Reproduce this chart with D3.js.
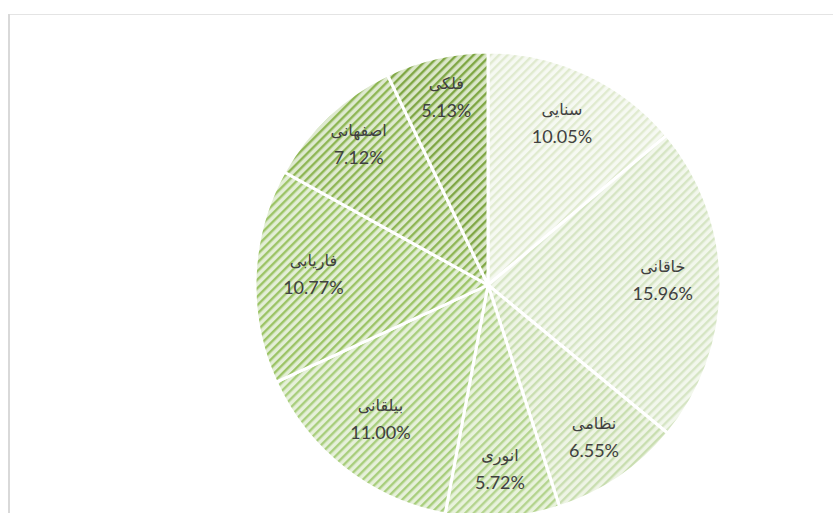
<!DOCTYPE html>
<html>
<head>
<meta charset="utf-8">
<script src="https://cdn.jsdelivr.net/npm/d3@7"></script>
<style>
  body { margin: 0; background: #fff; }
  svg { display: block; }
</style>
</head>
<body>
<div id="chart"></div>
<script>
// poets and their shares
const names = ["سنایی", "خاقانی", "نظامی", "انوری", "بیلقانی", "فاریابی", "اصفهانی", "فلکی"];
const values = [10.05, 15.96, 6.55, 5.72, 11.00, 10.77, 7.12, 5.13];
const stripeColors = ["#e0eacf", "#d6e5c4", "#c9deb0", "#b4d48e", "#a8ce7c", "#9cc466", "#8eb654", "#7fa744"];
const backColors = ["#f6f9f2", "#f2f7ec", "#eef4e5", "#e8f2dc", "#e6f0da", "#e3eed6", "#dfead0", "#dbe7c9"];

const width = 833, height = 513;
const cx = 488, cy = 285, radius = 233;

const svg = d3.select("#chart")
  .append("svg")
  .attr("width", width)
  .attr("height", height);

// chart frame (top and left edges)
svg.append("line")
  .attr("x1", 8).attr("x2", width).attr("y1", 14.5).attr("y2", 14.5)
  .attr("stroke", "#e4e4e4").attr("stroke-width", 1);
svg.append("line")
  .attr("x1", 9).attr("x2", 9).attr("y1", 14).attr("y2", height)
  .attr("stroke", "#d9d9d9").attr("stroke-width", 2);

// hatch patterns, one per slice
const defs = svg.append("defs");
names.forEach(function(n, i) {
  const p = defs.append("pattern")
    .attr("id", "hatch" + i)
    .attr("patternUnits", "userSpaceOnUse")
    .attr("width", 6).attr("height", 6)
    .attr("patternTransform", "rotate(45)");
  p.append("rect").attr("width", 6).attr("height", 6).attr("fill", backColors[i]);
  p.append("rect").attr("width", 2.4).attr("height", 6).attr("fill", stripeColors[i]);
});

const total = d3.sum(values);
const pie = d3.pie().sort(null).value(function(d) { return d; });
const arcs = pie(values);

const arc = d3.arc().innerRadius(0).outerRadius(radius);

const g = svg.append("g")
  .attr("transform", `translate(${cx}, ${cy})`);

g.selectAll("path")
  .data(arcs)
  .join("path")
  .attr("d", arc)
  .attr("fill", function(d, i) { return "url(#hatch" + i + ")"; })
  .attr("stroke", "#fff")
  .attr("stroke-width", 3)
  .attr("stroke-linejoin", "round");

// labels: small slices sit a bit further out
function labelPos(d) {
  const share = d.value / total;
  const r = radius * (share < 0.1 ? 0.81 : 0.75);
  const a = (d.startAngle + d.endAngle) / 2;
  return [Math.sin(a) * r, -Math.cos(a) * r];
}

const labels = g.selectAll("g.lbl")
  .data(arcs)
  .join("g")
  .attr("class", "lbl")
  .attr("transform", function(d) { const p = labelPos(d); return `translate(${p[0]}, ${p[1]})`; });

labels.append("text")
  .attr("y", -12)
  .attr("text-anchor", "middle")
  .style("font-family", "'DejaVu Sans', 'Noto Sans', sans-serif")
  .style("font-size", "16px")
  .style("fill", "#404040")
  .text(function(d, i) { return names[i]; });

labels.append("text")
  .attr("y", 16)
  .attr("text-anchor", "middle")
  .style("font-family", "Lato, 'Open Sans', sans-serif")
  .style("font-size", "18px")
  .style("fill", "#404040")
  .text(function(d) { return d.value.toFixed(2) + "%"; });
</script>
</body>
</html>
